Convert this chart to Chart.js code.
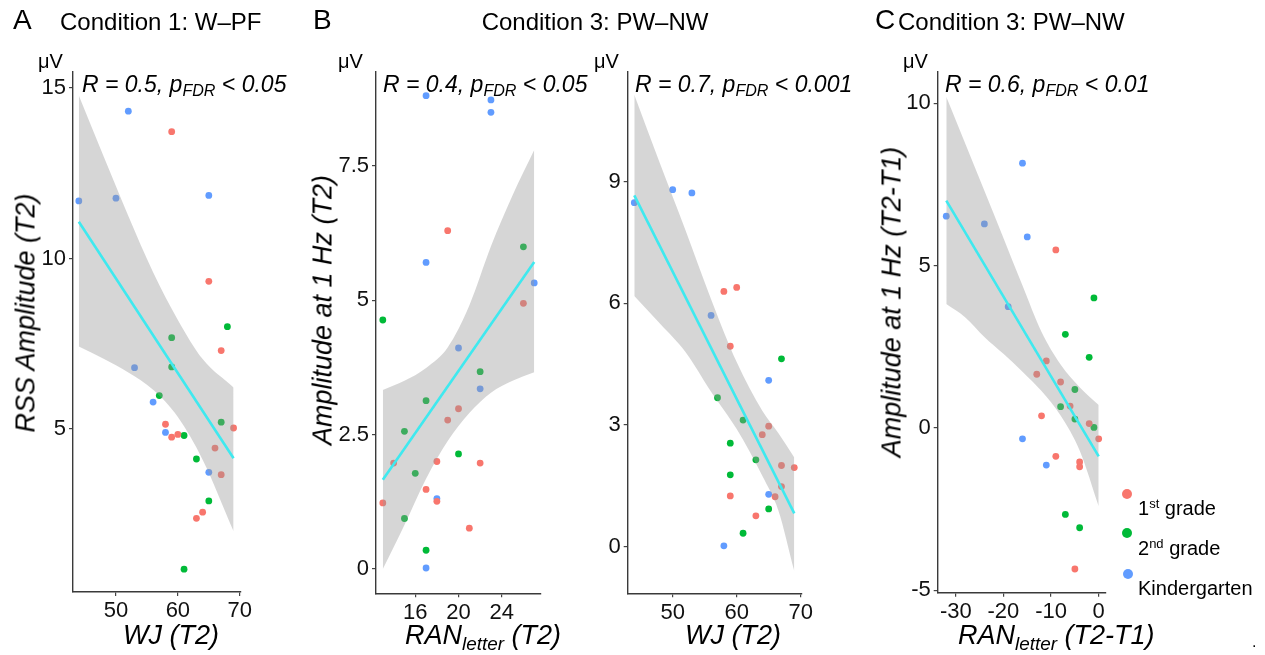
<!DOCTYPE html>
<html>
<head>
<meta charset="utf-8">
<script src="https://cdn.jsdelivr.net/npm/chart.js@4.4.1/dist/chart.umd.min.js"></script>
<style>
  html, body { margin:0; padding:0; background:#fff; }
  body { width:1265px; height:655px; position:relative; overflow:hidden;
         font-family:'Liberation Sans', Arial, Helvetica, sans-serif; color:#000; }
  canvas { position:absolute; top:0; }
  .t { position:absolute; white-space:nowrap; line-height:1; }
  .sb { font-size:0.7em; position:relative; top:0.3em; }
  .sp { font-size:0.65em; position:relative; top:-0.55em; }
  .dot { position:absolute; width:10px; height:10px; border-radius:50%; }
</style>
</head>
<body>
<canvas id="cA" width="262" height="655" style="left:0px;width:262px;height:655px"></canvas>
<canvas id="cB" width="262" height="655" style="left:300px;width:262px;height:655px"></canvas>
<canvas id="cC" width="232" height="655" style="left:590px;width:232px;height:655px"></canvas>
<canvas id="cD" width="246" height="655" style="left:880px;width:246px;height:655px"></canvas>
<script>
// ---------- DATA ----------
// Panel A: Condition 1 W-PF, RSS amplitude (T2) vs WJ (T2)
const A_G1_X = [59, 65, 67, 58, 59, 60, 69, 66, 67, 64, 63];
const A_G1_Y = [13.72, 9.33, 7.30, 5.14, 4.76, 4.84, 5.03, 4.44, 3.66, 2.56, 2.38];
const A_G2_X = [68, 59, 59, 57, 61, 67, 63, 65, 61];
const A_G2_Y = [8.0, 7.68, 6.82, 5.98, 4.81, 5.20, 4.12, 2.89, 0.89];
const A_K_X  = [52, 44, 50, 65, 53, 56, 58, 65];
const A_K_Y  = [14.32, 11.69, 11.77, 11.85, 6.80, 5.79, 4.90, 3.73];
const A_FIT_X = [44, 69];
const A_FIT_Y = [11.08, 4.14];
const A_BAND_X  = [44, 48, 52, 56, 60, 64, 69];
const A_BAND_HI = [14.78, 13.0, 11.25, 9.6, 8.2, 7.05, 6.22];
const A_BAND_LO = [7.42, 7.06, 6.66, 6.15, 5.35, 4.1, 2.0];
const A_XTICKS = [50, 60, 70];
const A_YTICKS = [5, 10, 15];

// Panel B: Condition 3 PW-NW, amplitude at 1 Hz (T2) vs RAN letter (T2)
const B_G1_X = [19, 26, 20, 19, 18, 22, 14, 17, 18, 13, 21];
const B_G1_Y = [6.29, 4.94, 2.98, 2.77, 2.00, 1.97, 1.97, 1.48, 1.26, 1.23, 0.76];
const B_G2_X = [26, 13, 22, 17, 15, 20, 16, 15, 17];
const B_G2_Y = [5.99, 4.63, 3.67, 3.13, 2.56, 2.14, 1.78, 0.94, 0.35];
const B_K_X  = [17, 27, 20, 22, 18, 17, 17, 23, 23];
const B_K_Y  = [5.70, 5.32, 4.11, 3.35, 1.31, 0.02, 8.80, 8.72, 8.49];
const B_FIT_X = [13, 27];
const B_FIT_Y = [1.66, 5.71];
const B_BAND_X  = [13, 15, 17, 19, 21, 23, 25, 27];
const B_BAND_HI = [3.33, 3.50, 3.74, 4.12, 4.90, 6.0, 6.95, 7.79];
const B_BAND_LO = [0.0, 0.82, 1.68, 2.38, 2.9, 3.28, 3.50, 3.66];
const B_XTICKS = [16, 20, 24];
const B_YTICKS = [0, 2.5, 5, 7.5];

// Panel C: Condition 3 PW-NW, amplitude at 1 Hz (T2) vs WJ (T2)
const C_G1_X = [58, 60, 59, 65, 64, 67, 69, 67, 59, 66, 63];
const C_G1_Y = [6.29, 6.39, 4.94, 2.97, 2.76, 2.00, 1.95, 1.48, 1.25, 1.23, 0.76];
const C_G2_X = [67, 57, 61, 59, 63, 59, 65, 61];
const C_G2_Y = [4.63, 3.67, 3.12, 2.55, 2.14, 1.77, 0.93, 0.33];
const C_K_X  = [50, 53, 44, 56, 65, 65, 58];
const C_K_Y  = [8.80, 8.72, 8.48, 5.70, 4.10, 1.29, 0.02];
const C_FIT_X = [44, 69];
const C_FIT_Y = [8.66, 0.82];
const C_BAND_X  = [44, 48, 52, 56, 60, 64, 66.5, 69];
const C_BAND_HI = [11.14, 9.45, 7.8, 6.1, 4.55, 3.35, 2.8, 2.2];
const C_BAND_LO = [6.18, 5.5, 4.8, 3.82, 2.9, 1.75, 0.9, -0.6];
const C_XTICKS = [50, 60, 70];
const C_YTICKS = [0, 3, 6, 9];

// Panel D: Condition 3 PW-NW, amplitude at 1 Hz (T2-T1) vs RAN letter (T2-T1)
const D_G1_X = [-9, -11, -13, -8, -6, -12, -2, 0, -9, -4, -4, -5];
const D_G1_Y = [5.48, 2.06, 1.65, 1.41, 0.67, 0.37, 0.13, -0.34, -0.88, -1.05, -1.20, -4.35];
const D_G2_X = [-1, -7, -2, -5, -8, -5, -1, -7, -4];
const D_G2_Y = [4.0, 2.88, 2.17, 1.18, 0.65, 0.27, 0.01, -2.67, -3.08];
const D_K_X  = [-16, -32, -24, -15, -19, -16, -11];
const D_K_Y  = [8.15, 6.52, 6.28, 5.88, 3.73, -0.34, -1.15];
const D_FIT_X = [-32, 0];
const D_FIT_Y = [7.0, -0.88];
const D_BAND_X  = [-32, -28, -24, -20, -16, -12, -8, -4, 0];
const D_BAND_HI = [10.2, 8.75, 7.3, 5.85, 4.38, 2.95, 1.95, 1.25, 0.70];
const D_BAND_LO = [3.81, 3.4, 2.8, 2.28, 1.73, 1.13, 0.38, -0.7, -2.42];
const D_XTICKS = [-30, -20, -10, 0];
const D_YTICKS = [-5, 0, 5, 10];

// ---------- STYLE ----------
const FONT = "'Liberation Sans', Arial, Helvetica, sans-serif";
const COL_G1 = '#F8766D', COL_G2 = '#00BA38', COL_K = '#619CFF';
const COL_FIT = '#3FE9EF', COL_BAND = 'rgba(153,153,153,0.4)';
const TICK_FS = 22;

function pts(xs, ys) { return xs.map((x, i) => ({ x: x, y: ys[i] })); }

function makePanel(id, p) {
  const canvas = document.getElementById(id);
  const cw = canvas.width;
  const axisW = p.axisLeft - p.canvasLeft;
  const padRight = p.canvasLeft + cw - p.axisRight;
  const scat = (xs, ys, c) => ({ type: 'scatter', data: pts(xs, ys), backgroundColor: c,
    borderWidth: 0, pointRadius: 3.4, pointHoverRadius: 3.4, order: 2 });
  const axisCommon = {
    type: 'linear',
    border: { display: true, color: '#3a3a3a', width: 1.4 },
    grid: { drawOnChartArea: false, drawTicks: true, tickLength: 4, color: '#444', lineWidth: 1.2 },
    ticks: { font: { family: FONT, size: TICK_FS }, color: '#111', callback: v => String(v) }
  };
  new Chart(canvas, {
    type: 'scatter',
    data: { datasets: [
      { type: 'line', data: pts(p.fitX, p.fitY), borderColor: COL_FIT, borderWidth: 2.6,
        pointRadius: 0, fill: false, order: 0 },
      { type: 'line', data: pts(p.bandX, p.bandHi), borderWidth: 0, borderColor: 'rgba(0,0,0,0)',
        pointRadius: 0, fill: '+1', backgroundColor: COL_BAND, cubicInterpolationMode: 'monotone', order: 1 },
      { type: 'line', data: pts(p.bandX, p.bandLo), borderWidth: 0, borderColor: 'rgba(0,0,0,0)',
        pointRadius: 0, fill: false, cubicInterpolationMode: 'monotone', order: 1 },
      scat(p.g1x, p.g1y, COL_G1),
      scat(p.g2x, p.g2y, COL_G2),
      scat(p.kx, p.ky, COL_K)
    ]},
    options: {
      responsive: false, animation: false, events: [],
      layout: { padding: { top: 72, right: padRight, left: 0, bottom: 0 } },
      plugins: { legend: { display: false }, tooltip: { enabled: false } },
      scales: {
        x: Object.assign({}, axisCommon, {
          position: 'bottom', min: p.xmin, max: p.xmax,
          ticks: Object.assign({}, axisCommon.ticks, { padding: 2 }),
          afterBuildTicks: s => { s.ticks = p.xticks.map(v => ({ value: v })); },
          afterFit: s => { s.height = 655 - p.axisBottom; }
        }),
        y: Object.assign({}, axisCommon, {
          position: 'left', min: p.ymin, max: p.ymax,
          ticks: Object.assign({}, axisCommon.ticks, { padding: 3 }),
          afterBuildTicks: s => { s.ticks = p.yticks.map(v => ({ value: v })); },
          afterFit: s => { s.width = axisW; }
        })
      }
    }
  });
}

makePanel('cA', { canvasLeft: 0, axisLeft: 73, axisRight: 241, axisBottom: 592,
  xmin: 43.06, xmax: 70.2, ymin: 0.22, ymax: 15.47,
  g1x: A_G1_X, g1y: A_G1_Y, g2x: A_G2_X, g2y: A_G2_Y, kx: A_K_X, ky: A_K_Y,
  fitX: A_FIT_X, fitY: A_FIT_Y, bandX: A_BAND_X, bandHi: A_BAND_HI, bandLo: A_BAND_LO,
  xticks: A_XTICKS, yticks: A_YTICKS });
makePanel('cB', { canvasLeft: 300, axisLeft: 376, axisRight: 540.7, axisBottom: 593.3,
  xmin: 12.37, xmax: 27.6, ymin: -0.45, ymax: 9.24,
  g1x: B_G1_X, g1y: B_G1_Y, g2x: B_G2_X, g2y: B_G2_Y, kx: B_K_X, ky: B_K_Y,
  fitX: B_FIT_X, fitY: B_FIT_Y, bandX: B_BAND_X, bandHi: B_BAND_HI, bandLo: B_BAND_LO,
  xticks: B_XTICKS, yticks: B_YTICKS });
makePanel('cC', { canvasLeft: 590, axisLeft: 627.7, axisRight: 801.7, axisBottom: 593.3,
  xmin: 42.97, xmax: 70.16, ymin: -1.15, ymax: 11.7,
  g1x: C_G1_X, g1y: C_G1_Y, g2x: C_G2_X, g2y: C_G2_Y, kx: C_K_X, ky: C_K_Y,
  fitX: C_FIT_X, fitY: C_FIT_Y, bandX: C_BAND_X, bandHi: C_BAND_HI, bandLo: C_BAND_LO,
  xticks: C_XTICKS, yticks: C_YTICKS });
makePanel('cD', { canvasLeft: 880, axisLeft: 937.7, axisRight: 1105.7, axisBottom: 592.7,
  xmin: -33.8, xmax: 1.47, ymin: -5.08, ymax: 10.96,
  g1x: D_G1_X, g1y: D_G1_Y, g2x: D_G2_X, g2y: D_G2_Y, kx: D_K_X, ky: D_K_Y,
  fitX: D_FIT_X, fitY: D_FIT_Y, bandX: D_BAND_X, bandHi: D_BAND_HI, bandLo: D_BAND_LO,
  xticks: D_XTICKS, yticks: D_YTICKS });

// ---------- TEXT ----------
const ASC = 0.8465; // baseline offset within a line-height:1 box for Liberation Sans
function txt(html, x, base, fs, opt) {
  opt = opt || {};
  const d = document.createElement('div');
  d.className = 't';
  d.innerHTML = html;
  d.style.fontSize = fs + 'px';
  d.style.left = x + 'px';
  d.style.top = (base - ASC * fs) + 'px';
  if (opt.italic) d.style.fontStyle = 'italic';
  if (opt.center) d.style.transform = 'translateX(-50%)';
  document.body.appendChild(d);
  return d;
}
function vtxt(html, baseX, cy, fs) {
  const d = document.createElement('div');
  d.className = 't';
  d.innerHTML = html;
  d.style.fontSize = fs + 'px';
  d.style.fontStyle = 'italic';
  const cx = baseX - (ASC - 0.5) * fs;
  d.style.left = cx + 'px';
  d.style.top = cy + 'px';
  d.style.transform = 'translate(-50%,-50%) rotate(-90deg)';
  document.body.appendChild(d);
}

// panel labels and condition titles
txt('A', 13, 30, 28);
txt('Condition 1: W\u2013PF', 60, 30, 24);
txt('B', 313, 30, 28);
txt('Condition 3: PW\u2013NW', 595, 30, 24, { center: true });
txt('C', 875, 30, 28);
txt('Condition 3: PW\u2013NW', 898, 30, 24);

// unit labels
txt('\u03BCV', 38, 68, 20);
txt('\u03BCV', 338, 68, 20);
txt('\u03BCV', 594, 68, 20);
txt('\u03BCV', 903, 68, 20);

// statistics annotations
const P = 'p<span class="sb">FDR</span>';
txt('R = 0.5, ' + P + ' &lt; 0.05', 82, 92, 23, { italic: true });
txt('R = 0.4, ' + P + ' &lt; 0.05', 383, 92, 23, { italic: true });
txt('R = 0.7, ' + P + ' &lt; 0.001', 635, 92, 23, { italic: true });
txt('R = 0.6, ' + P + ' &lt; 0.01', 945, 92, 23, { italic: true });

// axis titles
txt('WJ (T2)', 123, 645, 27, { italic: true });
txt('RAN<span class="sb">letter</span> (T2)', 405, 645, 27, { italic: true });
txt('WJ (T2)', 685, 645, 27, { italic: true });
txt('RAN<span class="sb">letter</span> (T2-T1)', 958, 645, 27, { italic: true });
vtxt('RSS Amplitude (T2)', 35.5, 313, 27);
vtxt('Amplitude at 1 Hz (T2)', 332.5, 310, 27);
vtxt('Amplitude at 1 Hz (T2-T1)', 901.5, 302, 27);

// legend
function legendDot(cx, cy, c) {
  const d = document.createElement('div');
  d.className = 'dot';
  d.style.left = (cx - 5) + 'px';
  d.style.top = (cy - 5) + 'px';
  d.style.background = c;
  document.body.appendChild(d);
}
legendDot(1127, 494, COL_G1);
legendDot(1127, 533, COL_G2);
legendDot(1128, 574, COL_K);
txt('1<span class="sp">st</span> grade', 1138, 515, 20);
txt('2<span class="sp">nd</span> grade', 1138, 555, 20);
txt('Kindergarten', 1138, 595, 20);
txt('.', 1252, 648, 16);
</script>
</body>
</html>
